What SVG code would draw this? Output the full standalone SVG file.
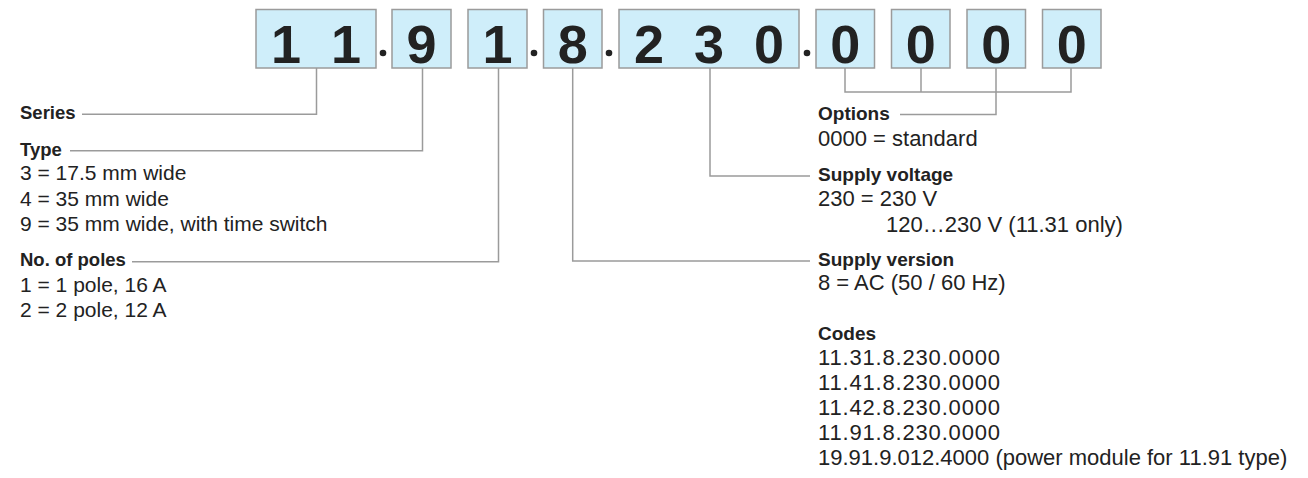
<svg xmlns="http://www.w3.org/2000/svg" width="1308" height="478" viewBox="0 0 1308 478">
<style>
.box{fill:#cfeefa;stroke:#9b9b9b;stroke-width:1.5}
.dig{font-family:"Liberation Sans",Arial,sans-serif;font-weight:bold;font-size:54px;fill:#222;text-anchor:middle}
.dot{fill:#222}
.t{font-family:"Liberation Sans",Arial,sans-serif;font-size:21px;fill:#222}
.r{font-family:"Liberation Sans",Arial,sans-serif;font-size:22px;fill:#222}
.b{font-family:"Liberation Sans",Arial,sans-serif;font-size:18.5px;font-weight:bold;fill:#222}
.rb{font-family:"Liberation Sans",Arial,sans-serif;font-size:19px;font-weight:bold;fill:#222}
.ln{fill:none;stroke:#9b9b9b;stroke-width:1.5}
</style>
<rect width="1308" height="478" fill="#fff"/>
<g id="code">
<g id="box-series"><rect class="box" x="256" y="9.5" width="120" height="58.5"/><text class="dig" x="286" y="63">1</text><text class="dig" x="346" y="63">1</text></g>
<circle class="dot" cx="383" cy="53" r="3.3"/>
<g id="box-type"><rect class="box" x="392" y="9.5" width="59" height="58.5"/><text class="dig" x="421.5" y="63">9</text></g>
<g id="box-poles"><rect class="box" x="468" y="9.5" width="59" height="58.5"/><text class="dig" x="497.5" y="63">1</text></g>
<circle class="dot" cx="534" cy="53" r="3.3"/>
<g id="box-version"><rect class="box" x="543.5" y="9.5" width="58.5" height="58.5"/><text class="dig" x="572.7" y="63">8</text></g>
<circle class="dot" cx="609" cy="53" r="3.3"/>
<g id="box-voltage"><rect class="box" x="619" y="9.5" width="180" height="58.5"/><text class="dig" x="649" y="63">2</text><text class="dig" x="709" y="63">3</text><text class="dig" x="769" y="63">0</text></g>
<circle class="dot" cx="807" cy="53" r="3.3"/>
<g id="box-opt1"><rect class="box" x="816" y="9.5" width="58.5" height="58.5"/><text class="dig" x="845.2" y="63">0</text></g>
<g id="box-opt2"><rect class="box" x="891.5" y="9.5" width="58.5" height="58.5"/><text class="dig" x="920.7" y="63">0</text></g>
<g id="box-opt3"><rect class="box" x="967" y="9.5" width="58.5" height="58.5"/><text class="dig" x="996.2" y="63">0</text></g>
<g id="box-opt4"><rect class="box" x="1042.5" y="9.5" width="58.5" height="58.5"/><text class="dig" x="1071.7" y="63">0</text></g>
</g>
<g id="connectors">
<polyline class="ln" points="316.5,68 316.5,114.3 82,114.3"/>
<polyline class="ln" points="422.5,68 422.5,150.7 70,150.7"/>
<polyline class="ln" points="498.5,68 498.5,261.7 132,261.7"/>
<polyline class="ln" points="572.7,68 572.7,261 810,261"/>
<polyline class="ln" points="710,68 710,176 810,176"/>
<polyline class="ln" points="845,68 845,92 1071,92 1071,68"/>
<line class="ln" x1="921" y1="68" x2="921" y2="92"/>
<polyline class="ln" points="996,68 996,114.5 900,114.5"/>
</g>
<g id="series"><text class="b" x="20" y="119">Series</text></g>
<g id="type"><text class="b" x="20" y="155.5">Type</text>
<text class="t" x="20" y="180">3 = 17.5 mm wide</text>
<text class="t" x="20" y="205.5">4 = 35 mm wide</text>
<text class="t" x="20" y="231">9 = 35 mm wide, with time switch</text></g>
<g id="poles"><text class="b" x="20" y="266">No. of poles</text>
<text class="t" x="20" y="291.5">1 = 1 pole, 16 A</text>
<text class="t" x="20" y="317">2 = 2 pole, 12 A</text></g>
<g id="options"><text class="rb" x="818" y="120">Options</text>
<text class="r" x="818" y="146">0000 = standard</text></g>
<g id="voltage"><text class="rb" x="818" y="181">Supply voltage</text>
<text class="r" x="818" y="205.5">230 = 230 V</text>
<text class="r" x="886" y="231.5">120…230 V (11.31 only)</text></g>
<g id="version"><text class="rb" x="818" y="265.5">Supply version</text>
<text class="r" x="818" y="290">8 = AC (50 / 60 Hz)</text></g>
<g id="codes"><text class="rb" x="818" y="340">Codes</text>
<text class="r" x="818" y="365" textLength="182" lengthAdjust="spacing">11.31.8.230.0000</text>
<text class="r" x="818" y="390" textLength="182" lengthAdjust="spacing">11.41.8.230.0000</text>
<text class="r" x="818" y="415" textLength="182" lengthAdjust="spacing">11.42.8.230.0000</text>
<text class="r" x="818" y="440" textLength="182" lengthAdjust="spacing">11.91.8.230.0000</text>
<text class="r" x="818" y="465">19.91.9.012.4000 (power module for 11.91 type)</text></g>
</svg>
